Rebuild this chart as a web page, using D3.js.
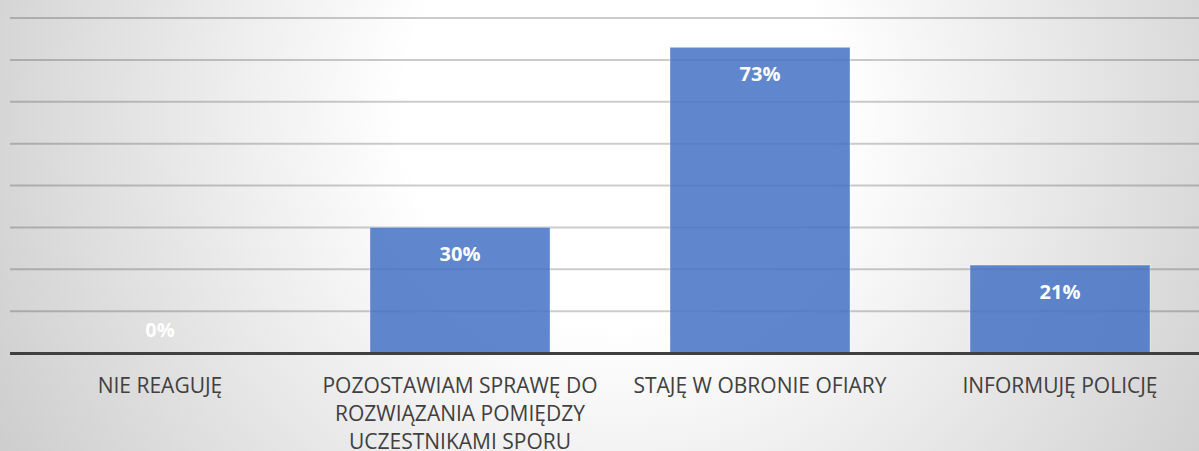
<!DOCTYPE html>
<html>
<head>
<meta charset="utf-8">
<script src="https://cdn.jsdelivr.net/npm/d3@7"></script>
<style>
html,body{margin:0;padding:0;overflow:hidden;background:#fff;}
svg{display:block;}
</style>
</head>
<body>
<svg id="chart" width="1199" height="451"></svg>
<script>
const categories = ["NIE REAGUJĘ", "POZOSTAWIAM SPRAWĘ DO ROZWIĄZANIA POMIĘDZY UCZESTNIKAMI SPORU", "STAJĘ W OBRONIE OFIARY", "INFORMUJĘ POLICJĘ"];
const values = [0, 30, 73, 21];
const gridTicks = [10, 20, 30, 40, 50, 60, 70, 80];

const W = 1199, H = 451;
const svg = d3.select("#chart");
const defs = svg.append("defs");
const grad = defs.append("radialGradient").attr("id","bg")
  .attr("gradientUnits","userSpaceOnUse")
  .attr("cx",620).attr("cy",110).attr("r",720);
grad.append("stop").attr("offset","0").attr("stop-color","#ffffff");
grad.append("stop").attr("offset","0.3").attr("stop-color","#ffffff");
grad.append("stop").attr("offset","1").attr("stop-color","#cccccc");
svg.append("rect").attr("width",W).attr("height",H).attr("fill","url(#bg)");

const x = d3.scaleBand().domain(categories).range([10, 1210]).paddingInner(0.4).paddingOuter(0.2);
const y = d3.scaleLinear().domain([0, 80]).range([353, 18]);

// gridlines
svg.append("g").selectAll("line").data(gridTicks).join("line")
  .attr("x1", 10).attr("x2", W)
  .attr("y1", d => y(d)).attr("y2", d => y(d))
  .attr("stroke", "rgba(0,0,0,0.2)").attr("stroke-width", 2);

// bars
svg.append("g").selectAll("rect").data(values).join("rect")
  .attr("x", (d,i) => x(categories[i]))
  .attr("width", x.bandwidth())
  .attr("y", d => y(d))
  .attr("height", d => y(0) - y(d))
  .attr("fill", "#4472C4").attr("fill-opacity", 0.85)
  .attr("stroke", "rgba(255,255,255,0.35)").attr("stroke-width", 1);

// baseline axis
const xAxis = d3.axisBottom(x).tickSize(0).tickFormat("");
const ax = svg.append("g").attr("transform", `translate(0,${y(0)})`).call(xAxis);
ax.select(".domain").remove();
svg.append("line").attr("x1",10).attr("x2",W).attr("y1",y(0)+0.5).attr("y2",y(0)+0.5)
  .attr("stroke","#404040").attr("stroke-width",3);

// value labels
svg.append("g").selectAll("text").data(values).join("text")
  .attr("x", (d,i) => x(categories[i]) + x.bandwidth()/2)
  .attr("y", d => d === 0 ? y(0) - 16 : y(d) + 34)
  .attr("text-anchor","middle")
  .attr("font-family","'Open Sans', sans-serif")
  .attr("font-weight","bold")
  .attr("font-size","20px")
  .attr("fill","#ffffff")
  .text(d => d + "%");

// category labels with wrapping
const catFont = "'Open Sans', sans-serif";
const fs = "21px";
const measure = document.createElementNS("http://www.w3.org/2000/svg","text");
svg.node().appendChild(measure);
d3.select(measure).attr("font-family",catFont).attr("font-size",fs);
function tw(s){ measure.textContent = s; return measure.getComputedTextLength(); }
const maxW = 292;
categories.forEach((c) => {
  const words = c.split(" ");
  const lines = [];
  let cur = "";
  words.forEach(w => {
    const t = cur ? cur + " " + w : w;
    if (tw(t) > maxW && cur) { lines.push(cur); cur = w; } else cur = t;
  });
  if (cur) lines.push(cur);
  const t = svg.append("text")
    .attr("text-anchor","middle")
    .attr("font-family",catFont).attr("font-size",fs)
    .attr("fill","#404040");
  lines.forEach((l,j) => {
    t.append("tspan").attr("x", x(c) + x.bandwidth()/2).attr("y", 393 + j*28).text(l);
  });
});
measure.remove();
</script>
</body>
</html>
